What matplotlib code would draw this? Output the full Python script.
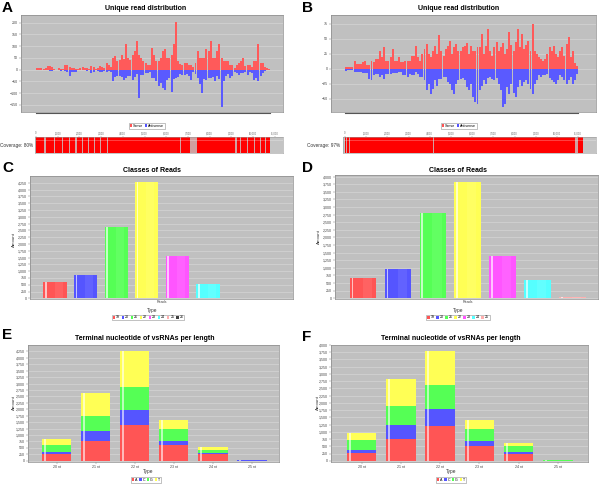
import numpy as np
import matplotlib
matplotlib.use('Agg')
import matplotlib.pyplot as plt
from matplotlib import font_manager as fm
from matplotlib.patches import Patch
from matplotlib.transforms import blended_transform_factory

# ---------------- data ----------------
BIN_NT = 100
a_sense = [7, 7, 5, 3, 8, 14, 14, 10, 2, 0,
           5, 3, 4, 20, 18, 12, 8, 6, 4, 2,
           8, 10, 5, 8, 2, 14, 10, 3, 6, 15,
           12, 8, 28, 20, 10, 50, 57, 36, 40, 64,
           45, 107, 50, 40, 64, 78, 121, 64, 50, 36,
           30, 20, 18, 93, 64, 36, 36, 50, 78, 86,
           50, 50, 64, 107, 204, 36, 25, 21, 28, 28,
           21, 21, 10, 30, 78, 50, 50, 50, 86, 78,
           121, 50, 50, 78, 107, 50, 36, 36, 36, 21,
           21, 5, 21, 28, 36, 50, 15, 21, 21, 10,
           36, 36, 107, 28, 28, 10, 5, 2]
a_antisense = [0, 0, 2, 0, 0, 2, 5, 4, 0, 0,
               2, 5, 3, 6, 8, 28, 10, 8, 8, 3,
               3, 3, 3, 4, 3, 14, 10, 3, 4, 10,
               8, 5, 8, 6, 10, 50, 30, 28, 25, 30,
               43, 36, 25, 28, 43, 30, 20, 121, 21, 21,
               14, 14, 10, 36, 36, 50, 71, 57, 79, 86,
               43, 36, 93, 40, 36, 30, 20, 21, 21, 18,
               28, 43, 10, 20, 36, 60, 100, 40, 43, 36,
               36, 30, 50, 28, 40, 157, 50, 28, 20, 36,
               25, 10, 14, 21, 15, 14, 10, 21, 10, 14,
               43, 36, 50, 28, 14, 5, 3, 2]
b_sense = [3, 3, 3, 3, 14, 8, 8, 8, 12, 14,
           7, 6, 14, 12, 17, 17, 30, 20, 36, 14,
           14, 20, 33, 14, 14, 20, 11, 11, 14, 14,
           14, 22, 22, 39, 20, 14, 25, 33, 42, 25,
           20, 30, 39, 25, 56, 30, 22, 33, 39, 47,
           25, 36, 42, 30, 30, 36, 39, 44, 25, 38,
           30, 30, 36, 36, 58, 25, 39, 67, 30, 22,
           36, 45, 30, 36, 44, 25, 33, 61, 40, 30,
           45, 67, 36, 58, 33, 40, 47, 30, 75, 30,
           25, 20, 17, 14, 17, 25, 36, 30, 39, 25,
           20, 30, 36, 22, 42, 53, 20, 30, 10, 5]
b_antisense = [4, 2, 2, 2, 6, 6, 6, 6, 7, 7,
               7, 17, 19, 10, 8, 8, 14, 11, 17, 8,
               8, 8, 7, 7, 7, 6, 6, 10, 11, 14,
               8, 10, 11, 6, 8, 14, 14, 19, 36, 25,
               42, 33, 19, 28, 17, 17, 14, 14, 22, 25,
               36, 42, 25, 19, 17, 16, 19, 30, 36, 25,
               47, 55, 59, 36, 28, 19, 25, 16, 14, 17,
               19, 16, 25, 36, 63, 58, 30, 42, 25, 40,
               47, 30, 19, 28, 22, 19, 25, 33, 42, 25,
               19, 11, 14, 11, 11, 8, 16, 19, 22, 25,
               19, 11, 14, 19, 25, 19, 14, 25, 19, 8]
strand_labels = ['Sense', 'Antisense']

a_covered_end = 10790
a_gaps = [(380, 440), (810, 860), (1190, 1240), (1500, 1550), (1820, 1870),
          (2110, 2160), (2390, 2440), (2660, 2740), (2960, 3010), (3270, 3320),
          (4640, 4670), (5330, 5360), (6020, 6050), (6640, 6670), (7100, 7400),
          (7870, 7900), (8330, 8360), (8790, 8820), (9190, 9240), (9410, 9460),
          (9720, 9770), (10030, 10080), (10340, 10390), (10570, 10620)]
b_covered_end = 11210
b_gaps = [(60, 100), (200, 230), (2580, 2610), (4150, 4180), (4940, 4970),
          (10850, 11000)]
a_coverage_label = 'Coverage: 80%'
b_coverage_label = 'Coverage: 97%'
coverage_ticks = list(range(0, 11001, 1000))

classes_c = ['19', '20', '21', '22', '23', '24', '25', '26']
reads_c = [600, 845, 2610, 4265, 1569, 515, 30, 0]
classes_d = ['19', '20', '21', '22', '23', '24', '25']
reads_d = [658, 965, 2818, 3816, 1392, 603, 40]
reads_category = 'Reads'

lengths = ['20 nt', '21 nt', '22 nt', '23 nt', '24 nt', '25 nt']
nucleotides = ['A', 'C', 'G', 'T']
e_A = [259, 764, 1373, 609, 246, 8]
e_C = [91, 389, 595, 168, 39, 5]
e_G = [259, 569, 881, 440, 129, 12]
e_T = [233, 894, 1425, 363, 104, 5]
f_A = [276, 772, 1210, 530, 253, 10]
f_C = [116, 461, 576, 161, 58, 6]
f_G = [322, 668, 829, 426, 196, 16]
f_T = [254, 910, 1187, 288, 115, 8]

# ---------------- style ----------------
W, H = 600, 484
names = {f.name for f in fm.fontManager.ttflist}
NARROW = 'Liberation Sans Narrow' if 'Liberation Sans Narrow' in names else 'Liberation Sans'
plt.rcParams['font.family'] = [NARROW, 'DejaVu Sans']
PLOT_BG = '#c0c0c0'
GRID = '#dadada'
SERIES = ['#ff5555', '#5555ff', '#55ff55', '#ffff55', '#ff55ff', '#55ffff', '#ffafaf', '#404040']
TICK_FS = 2.6
LEG_FS = 2.6
TITLE_FS = 5.0

fig = plt.figure(figsize=(6, 4.84), dpi=100)
fig.patch.set_facecolor('white')


def rect(l, t, r, b):
    return [l / W, 1 - b / H, (r - l) / W, (b - t) / H]


def ftext(x, y, s, **kw):
    fig.text(x / W, 1 - y / H, s, **kw)


def style(ax):
    ax.set_facecolor(PLOT_BG)
    for s in ax.spines.values():
        s.set_color('#8a8a8a')
        s.set_linewidth(0.5)
    ax.tick_params(axis='both', length=1.2, width=0.3, color='#777777', pad=0.8,
                   labelsize=TICK_FS, labelcolor='#444444')
    ax.yaxis.grid(True, color=GRID, lw=0.4)
    ax.set_axisbelow(True)


def legend_at(ax, labels, colors, cx, cy):
    handles = [Patch(facecolor=c, edgecolor='none') for c in colors]
    leg = ax.legend(handles, labels, loc='center', bbox_to_anchor=(cx / W, 1 - cy / H),
                    bbox_transform=fig.transFigure, ncol=len(labels), fontsize=LEG_FS,
                    frameon=True, fancybox=False, edgecolor='#777777',
                    handlelength=0.7, handleheight=0.7, handletextpad=0.25,
                    columnspacing=0.45, borderpad=0.25, borderaxespad=0)
    leg.get_frame().set_linewidth(0.4)


def letter(x, y, s):
    ftext(x, y, s, fontsize=11, fontweight='bold', family=['Liberation Sans', 'DejaVu Sans'],
          ha='left', va='center')


# ---------------- panels A / B ----------------
def read_panel(box, sense, anti, xlim, ylim, yticks, title_xy, legend_xy,
               cov_box, cov_xlim, covered_end, gaps, cov_label, cov_label_x):
    ax = fig.add_axes(rect(*box))
    style(ax)
    x = np.arange(len(sense)) * BIN_NT + BIN_NT / 2
    ax.bar(x, sense, width=BIN_NT * 0.92, color='#ff5a5a', linewidth=0)
    ax.bar(x, -np.asarray(anti), width=BIN_NT * 0.92, color='#5a5aff', linewidth=0)
    ax.set_xlim(*xlim)
    ax.set_ylim(*ylim)
    ax.set_yticks(yticks)
    ax.set_xticks([])
    tr = blended_transform_factory(ax.transData, ax.transAxes)
    ax.plot([0, len(sense) * BIN_NT], [-0.014, -0.014], transform=tr, clip_on=False,
            color='#555555', lw=0.8)
    ftext(title_xy[0], title_xy[1], 'Unique read distribution', fontsize=TITLE_FS,
          fontweight='bold', ha='center', va='center')
    legend_at(ax, strand_labels, ['#ff5555', '#5555ff'], *legend_xy)

    cx = fig.add_axes(rect(*cov_box))
    cx.set_facecolor('#c4c4c4')
    cx.axvspan(0, covered_end, color='#ff0000', lw=0)
    for g0, g1 in gaps:
        cx.axvspan(g0, g1, color='#d0a0a0', lw=0)
    cx.axhspan(0.72, 0.8, color='white', alpha=0.25, lw=0)
    cx.set_xlim(*cov_xlim)
    cx.set_ylim(0, 1)
    cx.set_yticks([])
    cx.xaxis.tick_top()
    cx.set_xticks(coverage_ticks)
    cx.set_xticklabels([f'{t:,}' for t in coverage_ticks])
    cx.tick_params(axis='x', length=0.8, width=0.3, pad=0.3, labelsize=1.9,
                   labelcolor='#666666', color='#777777')
    for s in cx.spines.values():
        s.set_color('#9a9a9a')
        s.set_linewidth(0.4)
    ftext(cov_label_x, (cov_box[1] + cov_box[3]) / 2, cov_label, fontsize=3.4,
          ha='left', va='center', color='#333333')


letter(2, 8, 'A')
letter(302, 8, 'B')
read_panel((21, 15, 283, 112), a_sense, a_antisense, (-691, 11382), (-180, 232),
           [-150, -100, -50, 0, 50, 100, 150, 200], (146, 9), (147, 126),
           (35, 137, 283, 153), (-46, 11382), a_covered_end, a_gaps, a_coverage_label, 0)
read_panel((331, 15, 596, 112), b_sense, b_antisense, (-660, 11840), (-72, 90),
           [-50, -25, 0, 25, 50, 75], (459, 9), (459, 126),
           (343, 137, 596, 153), (-94, 11840), b_covered_end, b_gaps, b_coverage_label, 307)


# ---------------- panels C / D ----------------
def class_panel(box, classes, values, xlim, ylim, ytop, title_xy, amount_xy, type_y, legend_xy):
    ax = fig.add_axes(rect(*box))
    style(ax)
    n = len(values)
    x = np.arange(n)
    cols = SERIES[:n]
    ax.bar(x, values, width=0.76, color=cols, linewidth=0)
    ax.bar(x - 0.3, values, width=0.05, color='white', alpha=0.65, linewidth=0)
    ax.bar(x + 0.12, values, width=0.26, color='white', alpha=0.08, linewidth=0)
    ax.set_xlim(*xlim)
    ax.set_ylim(*ylim)
    yt = np.arange(0, ytop + 1, 250)
    ax.set_yticks(yt)
    ax.set_yticklabels([f'{v:,}' for v in yt])
    ax.set_xticks([(n - 1) / 2])
    ax.set_xticklabels([reads_category])
    ax.tick_params(axis='x', length=0)
    ftext(title_xy[0], title_xy[1], 'Classes of Reads', fontsize=TITLE_FS,
          fontweight='bold', ha='center', va='center')
    ftext(amount_xy[0], amount_xy[1], 'Amount', fontsize=3.2, rotation=90,
          ha='center', va='center', color='#333333')
    ftext(title_xy[0], type_y, 'Type', fontsize=3.4, ha='center', va='center', color='#333333')
    legend_at(ax, classes, cols, *legend_xy)


letter(2, 168, 'C')
letter(302, 168, 'D')
class_panel((30, 176, 293, 299), classes_c, reads_c, (-0.817, 7.78), (-25, 4500), 4250,
            (152, 170), (14, 240), 310.5, (148, 317.5))
class_panel((335, 175, 598, 299), classes_d, reads_d, (-0.80, 6.73), (-25, 4055), 4000,
            (458, 170), (319, 237), 310.5, (458, 317.5))


# ---------------- panels E / F ----------------
def stack_panel(box, parts, xlim, ylim, ytop, title_xy, amount_xy, type_xy, legend_xy):
    ax = fig.add_axes(rect(*box))
    style(ax)
    x = np.arange(len(lengths))
    bottom = np.zeros(len(lengths))
    cols = SERIES[:4]
    for vals, c in zip(parts, cols):
        ax.bar(x, vals, bottom=bottom, width=0.75, color=c, linewidth=0)
        bottom = bottom + np.asarray(vals)
    ax.bar(x - 0.3, bottom, width=0.05, color='white', alpha=0.6, linewidth=0)
    ax.set_xlim(*xlim)
    ax.set_ylim(*ylim)
    yt = np.arange(0, ytop + 1, 250)
    ax.set_yticks(yt)
    ax.set_yticklabels([f'{v:,}' for v in yt])
    ax.set_xticks(x)
    ax.set_xticklabels(lengths)
    ftext(title_xy[0], title_xy[1], 'Terminal nucleotide of vsRNAs per length',
          fontsize=TITLE_FS, fontweight='bold', ha='center', va='center')
    ftext(amount_xy[0], amount_xy[1], 'Amount', fontsize=3.2, rotation=90,
          ha='center', va='center', color='#333333')
    ftext(type_xy[0], type_xy[1], 'Type', fontsize=3.4, ha='center', va='center', color='#333333')
    legend_at(ax, nucleotides, cols, *legend_xy)


letter(2, 335, 'E')
letter(302, 337, 'F')
stack_panel((28, 345, 279, 462), [e_A, e_C, e_G, e_T], (-0.73, 5.69), (-50, 4500), 4250,
            (145, 339), (14, 403), (148, 472), (146, 480))
stack_panel((331, 345, 588, 462), [f_A, f_C, f_G, f_T], (-0.78, 5.77), (-35, 4000), 4000,
            (451, 339), (318, 403), (451, 472), (451, 480))

fig.savefig('out.png', dpi=100)
